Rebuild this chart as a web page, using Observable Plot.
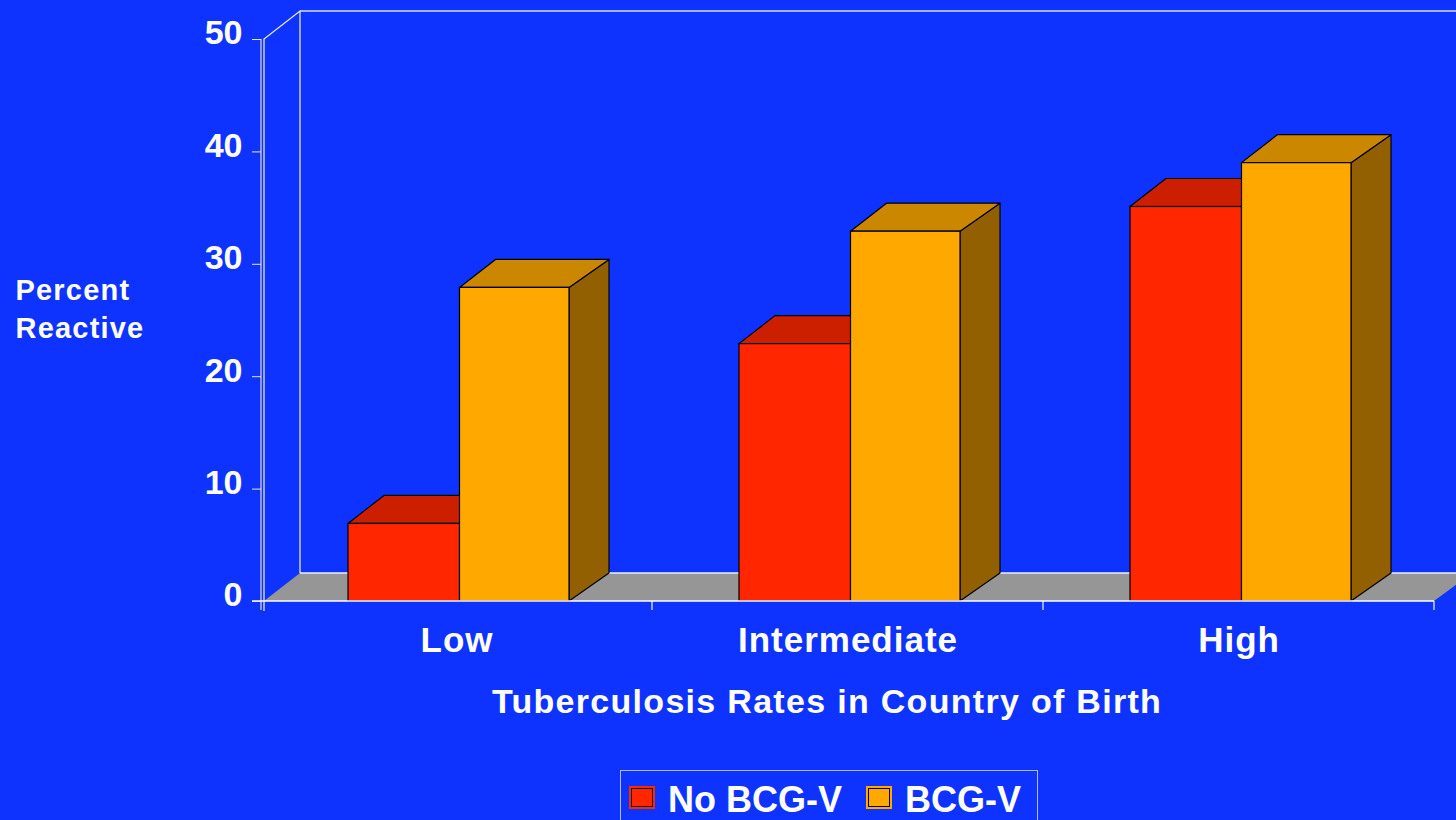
<!DOCTYPE html>
<html>
<head>
<meta charset="utf-8">
<script src="https://cdn.jsdelivr.net/npm/d3@7"></script>
<script src="https://cdn.jsdelivr.net/npm/@observablehq/plot@0.6"></script>
<style>
  html, body { margin: 0; padding: 0; background: #0E33FF; overflow: hidden; width: 1456px; height: 820px; }
  #chart { position: absolute; left: 0; top: 0; }
  #chart svg { overflow: visible; }
  g[aria-label="x-axis tick label"] text { letter-spacing: 1px; }
  g[aria-description="x-title"] text { letter-spacing: 1.3px; }
  g[aria-description="y-title"] text { letter-spacing: 1.2px; }
  .legend { position: absolute; left: 620px; top: 770px; width: 416px; height: 80px;
            border: 1px solid #b4bcff; font: bold 36px "Liberation Sans", Arial, sans-serif; color: #fff; }
  .legend .key { position: absolute; top: 17px; width: 20px; height: 17px; border: 1px solid #000;
                 box-shadow: 0 0 0 2px var(--c); background: var(--c); }
  .legend .lab { position: absolute; top: 11px; line-height: 36px; white-space: nowrap; }
</style>
</head>
<body>
<div id="chart"></div>
<div class="legend" id="legend"></div>
<script>
// Percent reactive by tuberculosis rate in country of birth
const categories = ["Low", "Intermediate", "High"];
const series = ["No BCG-V", "BCG-V"];
const noBcgValues = [6.9, 22.9, 35.1];
const bcgValues = [27.9, 32.9, 39.0];
const yTicks = [0, 10, 20, 30, 40, 50];
const xTitle = "Tuberculosis Rates in Country of Birth";
const yTitle = ["Percent", "Reactive"];

const rows = categories.flatMap((category, i) => [
  {category, series: series[0], value: noBcgValues[i]},
  {category, series: series[1], value: bcgValues[i]}
]);

// face colours: front, top, side
const palette = {
  "No BCG-V": {front: "#FF2600", top: "#CC1F00", side: "#911500"},
  "BCG-V": {front: "#FFA800", top: "#CC8700", side: "#926000"}
};
// bar placement inside each category band (pixels from band edges)
const bar = {
  "No BCG-V": {left: 87, right: 192.5},
  "BCG-V": {left: 198.5, right: 83}
};
// oblique depth of the 3D projection
const DXL = 36, DXR = 40, DY = -28;
const FONT = '"Liberation Sans", Arial, sans-serif';

const bandwidthOf = (x, dims) =>
  typeof x.bandwidth === "function" ? x.bandwidth()
    : (dims.width - dims.marginLeft - dims.marginRight) / categories.length;

// walls, floor and axis line
function walls(index, {x, y}, values, dims) {
  const g = d3.create("svg:g");
  const x0 = dims.marginLeft, x1 = dims.width - dims.marginRight;
  const y0 = y(0), yTop = y(yTicks[yTicks.length - 1]);
  const fx = x0 + 3, bx = fx + DXL;
  g.append("path")
    .attr("d", `M${fx},${y0}L${x1},${y0}L${x1 + DXL + 2},${y0 + DY}L${bx},${y0 + DY}Z`)
    .attr("fill", "#969696");
  const line = (d, c) => g.append("path").attr("d", d).attr("fill", "none")
    .attr("stroke", c).attr("stroke-width", 1.3);
  line(`M${fx},${y0 + 10}L${fx},${yTop}L${bx},${yTop + DY}L${bx},${y0 + DY}`, "#e6e6e6");
  line(`M${bx},${yTop + DY}L${dims.width + 60},${yTop + DY}`, "#dcdcdc");
  line(`M${bx},${y0 + DY}L${dims.width + 60},${y0 + DY}`, "#f0f0f0");
  line(`M${x0},${yTop}L${x0},${y0 + 9}`, "#cfcfcf");
  const bw = bandwidthOf(x, dims);
  for (const c of categories) {
    const xt = x(c) + bw;
    line(`M${xt},${y0}L${xt},${y0 + 9}`, "#e6e6e6");
  }
  return g.node();
}

// top and side faces of the bars of one series
function depthFaces(s) {
  return (index, {x, y}, values, dims) => {
    const g = d3.create("svg:g");
    const bw = bandwidthOf(x, dims);
    const y0 = y(0);
    for (const d of rows.filter(r => r.series === s)) {
      const xl = x(d.category) + bar[s].left;
      const xr = x(d.category) + bw - bar[s].right;
      const yv = y(d.value);
      g.append("path")
        .attr("d", `M${xr},${yv}L${xr + DXR},${yv + DY}L${xr + DXR},${y0 + DY}L${xr},${y0}Z`)
        .attr("fill", palette[s].side).attr("stroke", "#000").attr("stroke-width", 1.2)
        .attr("stroke-linejoin", "round");
      g.append("path")
        .attr("d", `M${xl},${yv}L${xl + DXL},${yv + DY}L${xr + DXR},${yv + DY}L${xr},${yv}Z`)
        .attr("fill", palette[s].top).attr("stroke", "#000").attr("stroke-width", 1.2)
        .attr("stroke-linejoin", "round");
    }
    return g.node();
  };
}

const front = s => Plot.barY(rows.filter(r => r.series === s), {
  x: "category", y: "value", fill: palette[s].front,
  stroke: "#000", strokeWidth: 1.2,
  insetLeft: bar[s].left, insetRight: bar[s].right
});

const floorEdge = (index, {y}, values, dims) => {
  const g = d3.create("svg:g");
  g.append("path")
    .attr("d", `M${dims.marginLeft - 9},${y(0)}L${dims.width - dims.marginRight},${y(0)}`)
    .attr("stroke", "#ffffff").attr("stroke-width", 1.5);
  return g.node();
};

const chart = Plot.plot({
  width: 1456,
  height: 760,
  marginLeft: 261,
  marginRight: 22,
  marginTop: 39,
  marginBottom: 159,
  style: {background: "transparent", color: "white", fontFamily: FONT, overflow: "visible"},
  x: {domain: categories, padding: 0, label: null},
  y: {domain: [0, 50], label: null},
  marks: [
    walls,
    depthFaces(series[0]),
    front(series[0]),
    depthFaces(series[1]),
    front(series[1]),
    floorEdge,
    Plot.axisY({ticks: yTicks, tickSize: 9, tickFormat: () => "", stroke: "#e6e6e6", label: null}),
    Plot.axisY({ticks: yTicks, tickSize: 0, tickPadding: 19, dy: -6, label: null,
                fontSize: 34, fontWeight: "bold", fill: "white"}),
    Plot.axisX({tickSize: 0, tickPadding: 26, fontSize: 35, fontWeight: "bold", fill: "white", label: null}),
    Plot.text([xTitle], {frameAnchor: "bottom", lineAnchor: "bottom", dx: -21, dy: 111,
                         fontSize: 34, fontWeight: "bold", fill: "white",
                         ariaDescription: "x-title"}),
    Plot.text([yTitle.join("\n")], {frameAnchor: "top-left", textAnchor: "start", lineAnchor: "top",
                                    dx: -246, dy: 233, lineHeight: 1.32,
                                    fontSize: 29, fontWeight: "bold", fill: "white",
                                    ariaDescription: "y-title"})
  ]
});
document.getElementById("chart").appendChild(chart);

// legend
const legend = d3.select("#legend");
const keyLeft = [10, 247], labLeft = [47, 284];
series.forEach((s, i) => {
  legend.append("div").attr("class", "key")
    .style("left", keyLeft[i] + "px").style("--c", palette[s].front);
  legend.append("div").attr("class", "lab").style("left", labLeft[i] + "px").text(s);
});
</script>
</body>
</html>
